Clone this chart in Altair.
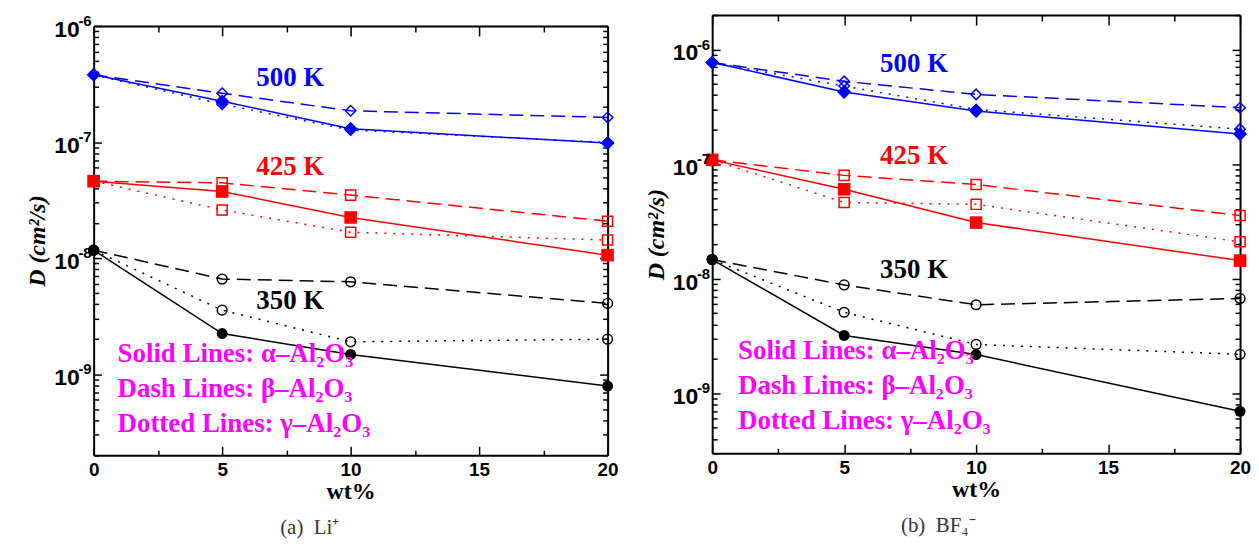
import altair as alt
import pandas as pd

# ---------------- data ----------------
wt = [0, 5, 10, 20]
temps = ["500 K", "425 K", "350 K"]
temp_colors = ["#0000ff", "#ff0000", "#000000"]
temp_shapes = ["diamond", "square", "circle"]
phases = ["alpha", "beta", "gamma"]

# (a) Li+
li_500_alpha = [3.8e-7, 2.25e-7, 1.30e-7, 9.8e-8]
li_500_beta = [3.8e-7, 2.63e-7, 1.86e-7, 1.63e-7]
li_500_gamma = [3.8e-7, 2.12e-7, 1.27e-7, 9.9e-8]
li_425_alpha = [4.6e-8, 3.75e-8, 2.24e-8, 1.06e-8]
li_425_beta = [4.6e-8, 4.45e-8, 3.49e-8, 2.08e-8]
li_425_gamma = [4.6e-8, 2.6e-8, 1.67e-8, 1.43e-8]
li_350_alpha = [1.17e-8, 2.24e-9, 1.48e-9, 7.9e-10]
li_350_beta = [1.17e-8, 6.6e-9, 6.25e-9, 4.07e-9]
li_350_gamma = [1.17e-8, 3.56e-9, 1.9e-9, 2.0e-9]

# (b) BF4-
bf_500_alpha = [7.7e-7, 4.27e-7, 2.91e-7, 1.83e-7]
bf_500_beta = [7.7e-7, 5.28e-7, 4.06e-7, 3.11e-7]
bf_500_gamma = [7.7e-7, 4.8e-7, 3.0e-7, 2.02e-7]
bf_425_alpha = [1.09e-7, 6.04e-8, 3.09e-8, 1.44e-8]
bf_425_beta = [1.09e-7, 7.98e-8, 6.64e-8, 3.56e-8]
bf_425_gamma = [1.09e-7, 4.63e-8, 4.46e-8, 2.1e-8]
bf_350_alpha = [1.47e-8, 3.2e-9, 2.18e-9, 6.97e-10]
bf_350_beta = [1.47e-8, 8.83e-9, 5.93e-9, 6.73e-9]
bf_350_gamma = [1.47e-8, 5.1e-9, 2.67e-9, 2.19e-9]

# annotations
legend_lines = ["Solid Lines: α–Al₂O₃", "Dash Lines: β–Al₂O₃", "Dotted Lines: γ–Al₂O₃"]
temp_label_x = 7.65
li_label_y = [3.56e-7, 6.08e-8, 4.26e-9]
bf_label_y = [7.42e-7, 1.17e-7, 1.2e-8]
li_legend_x = 0.93
bf_legend_x = 0.98
li_legend_y = [1.49e-9, 7.43e-10, 3.71e-10]
bf_legend_y = [2.36e-9, 1.17e-9, 5.74e-10]
captions = ["(a) \u00a0Li⁺", "(b) \u00a0BF₄⁻"]

# axes
x_major = [0, 5, 10, 15, 20]
x_minor = [2.5, 7.5, 12.5, 17.5]
y_exponents = [-10, -9, -8, -7, -6]
decades = [1e-10, 1e-9, 1e-8, 1e-7, 1e-6]
minor_mult = [2, 3, 4, 5, 6, 7, 8, 9]
li_y_domain = [2e-10, 1e-6]
bf_y_domain = [3e-10, 2e-6]

LAB_FONT = "Liberation Sans"
SERIF = "Liberation Serif"


def make_panel(series, y_domain, label_y, legend_x, legend_y, caption, cap_dx, width, height, top_gap):
    rows = []
    for temp, by_phase in zip(temps, series):
        for phase, vals in zip(phases, by_phase):
            for w, v in zip(wt, vals):
                rows.append({"wt": w, "D": v, "temp": temp, "phase": phase})
    df = pd.DataFrame(rows)
    lab_df = pd.DataFrame({"x": [temp_label_x] * 3, "D": label_y, "temp": temps})
    leg_df = pd.DataFrame({"x": [legend_x] * 3, "D": legend_y, "text": legend_lines})

    lo, hi = y_domain
    y_major = [d for d in decades if lo <= d <= hi]
    y_exp = [str(e) for d, e in zip(decades, y_exponents) if lo <= d <= hi]
    y_minor = [m * d for d in decades for m in minor_mult if lo <= m * d <= hi]
    ylab_df = pd.DataFrame({"x": [0] * len(y_major), "D": y_major, "exp": y_exp})

    xs = alt.Scale(domain=[0, 20], nice=False, zero=False)
    ys = alt.Scale(type="log", domain=y_domain, nice=False, range=[height, top_gap])
    color = alt.Color("temp:N", scale=alt.Scale(domain=temps, range=temp_colors), legend=None)
    shape = alt.Shape("temp:N", scale=alt.Scale(domain=temps, range=temp_shapes), legend=None)

    def X(axis, field="wt"):
        return alt.X(f"{field}:Q", scale=xs, axis=axis)

    def Y(axis):
        return alt.Y("D:Q", scale=ys, axis=axis)

    layers = []
    dashes = {"beta": [14, 7], "gamma": [2, 7], "alpha": None}
    for ph in ["beta", "gamma", "alpha"]:
        kw = {"strokeWidth": 1.5}
        if dashes[ph] is not None:
            kw["strokeDash"] = dashes[ph]
        layers.append(
            alt.Chart(df).transform_filter(alt.datum.phase == ph).mark_line(**kw)
            .encode(x=X(None), y=Y(None), color=color, detail="temp:N")
        )
    for ph in ["beta", "gamma"]:
        layers.append(
            alt.Chart(df).transform_filter(alt.datum.phase == ph)
            .mark_point(filled=False, strokeWidth=1.5, opacity=1)
            .encode(x=X(None), y=Y(None), color=color, shape=shape,
                    size=alt.Size("temp:N", scale=alt.Scale(domain=temps, range=[110, 95, 95]), legend=None))
        )
    layers.append(
        alt.Chart(df).transform_filter(alt.datum.phase == "alpha")
        .mark_point(filled=True, opacity=1)
        .encode(x=X(None), y=Y(None), color=color, shape=shape,
                size=alt.Size("temp:N", scale=alt.Scale(domain=temps, range=[200, 120, 115]), legend=None))
    )
    layers.append(
        alt.Chart(lab_df).mark_text(font=SERIF, fontSize=27, fontWeight="bold", align="center", baseline="middle")
        .encode(x=X(None, "x"), y=Y(None), text="temp:N", color=color)
    )
    layers.append(
        alt.Chart(leg_df).mark_text(font=SERIF, fontSize=27, fontWeight="bold", align="left", baseline="middle",
                                    color="#ff00ff")
        .encode(x=X(None, "x"), y=Y(None), text="text:N")
    )
    # y tick labels: "10" with a raised exponent
    layers.append(
        alt.Chart(ylab_df).mark_text(font=LAB_FONT, fontSize=23, fontWeight="bold", align="right",
                                     baseline="middle", dx=-14, dy=4, color="black", text="10")
        .encode(x=X(None, "x"), y=Y(None))
    )
    layers.append(
        alt.Chart(ylab_df).mark_text(font=LAB_FONT, fontSize=15, fontWeight="bold", align="right",
                                     baseline="middle", dx=-2, dy=-5, color="black")
        .encode(x=X(None, "x"), y=Y(None), text="exp:N")
    )

    def tick_axis(orient, values, size, extra=0):
        return alt.Axis(orient=orient, values=values, offset=-(size + extra), tickSize=size, tickWidth=1.5,
                        tickColor="black", labels=False, domain=False, title=None, grid=False)

    def domain_axis(orient, extra=0):
        return alt.Axis(orient=orient, offset=-extra, ticks=False, labels=False, domain=True, domainWidth=2,
                        domainColor="black", title=None, grid=False)

    x_main = alt.Axis(orient="bottom", values=x_major, format="d", labelFont=LAB_FONT, labelFontSize=19,
                      labelFontWeight="bold", labelColor="black", labelPadding=5, labelFlush=False,
                      labelOverlap=False, ticks=False, tickSize=0, domain=True, domainColor="black",
                      domainWidth=2, title="wt%", titleFont=SERIF, titleFontSize=24, titleFontWeight="bold",
                      titleColor="black", titlePadding=0, grid=False)
    y_main = alt.Axis(orient="left", values=y_major, labels=False, ticks=False, tickSize=0,
                      domain=True, domainColor="black", domainWidth=2, title="D (cm²/s)", titleFont=SERIF,
                      titleFontSize=24, titleFontStyle="italic", titleFontWeight="bold", titleColor="black",
                      titleX=-49, titleBaseline="alphabetic", titleAngle=270, grid=False)

    base = alt.Chart(df).mark_point(opacity=0)
    layers += [
        base.encode(x=X(x_main), y=Y(y_main)),
        base.encode(x=X(tick_axis("bottom", x_major, 9)), y=Y(tick_axis("left", y_major, 8))),
        base.encode(x=X(tick_axis("bottom", x_minor, 5)), y=Y(tick_axis("left", y_minor, 5))),
        base.encode(x=X(domain_axis("top", top_gap)), y=Y(domain_axis("right"))),
        base.encode(x=X(tick_axis("top", x_major, 10, top_gap)), y=Y(tick_axis("right", y_major, 8))),
        base.encode(x=X(tick_axis("top", x_minor, 6, top_gap)), y=Y(tick_axis("right", y_minor, 5))),
    ]

    return (
        alt.layer(*layers)
        .resolve_axis(x="independent", y="independent")
        .resolve_scale(size="independent")
        .properties(
            width=width, height=height,
            title=alt.TitleParams(caption, orient="bottom", anchor="middle", frame="group", dx=cap_dx,
                                  font=SERIF, fontSize=21, fontWeight="normal", color="#333333", offset=14),
        )
    )


left = make_panel(
    [[li_500_alpha, li_500_beta, li_500_gamma],
     [li_425_alpha, li_425_beta, li_425_gamma],
     [li_350_alpha, li_350_beta, li_350_gamma]],
    li_y_domain, li_label_y, li_legend_x, li_legend_y, captions[0], -41, 516, 442, 11)
right = make_panel(
    [[bf_500_alpha, bf_500_beta, bf_500_gamma],
     [bf_425_alpha, bf_425_beta, bf_425_gamma],
     [bf_350_alpha, bf_350_beta, bf_350_gamma]],
    bf_y_domain, bf_label_y, bf_legend_x, bf_legend_y, captions[1], -38, 530, 440, 0)

chart = (
    alt.hconcat(left, right, spacing=105, bounds="flush")
    .properties(padding={"left": 18, "top": 5, "right": 0, "bottom": 0}, background="white")
    .configure_view(stroke=None)
)

chart.save("out.html", embed_options={"renderer": "svg", "actions": False})
